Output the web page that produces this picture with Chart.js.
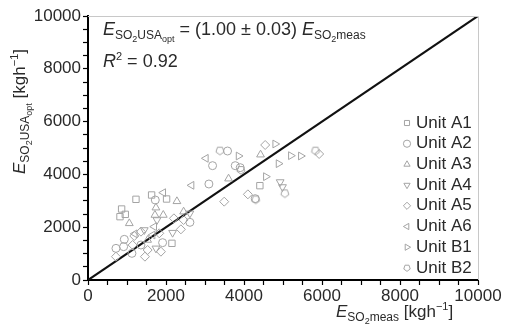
<!DOCTYPE html>
<html>
<head>
<meta charset="utf-8">
<script src="https://cdn.jsdelivr.net/npm/chart.js@4.4.1/dist/chart.umd.min.js"></script>
<style>
  html, body { margin: 0; padding: 0; background: #fff; }
  #wrap { width: 511px; height: 331px; }
</style>
</head>
<body>
<div id="wrap"><canvas id="chart" width="511" height="331"></canvas></div>
<script>
// values: [E_SO2meas, E_SO2USAopt] in kg/h
const unitA1 = [[1230,3056],[1631,3220],[2015,3068],[862,2689],[820,2399],[956,2487],[2152,1389],[4407,3573]];
const unitA2 = [[1725,3030],[3194,4331],[3578,4886],[3775,4331],[3100,3636],[931,1540],[717,1199],[914,1263],
                [1913,1414],[1127,1010],[1358,1326],[2613,2184],[4287,3081],[3903,4255]];
const unitA3 = [[1059,2146],[1742,2740],[1716,2462],[1930,2462],[2280,2980],[2451,2588],[4424,4747],[3604,3838],[1529,1515]];
const unitA4 = [[1768,2273],[2169,1793],[1742,1199],[1443,1894],[4927,3712],[4987,3523],[2613,2525]];
const unitA5 = [[2203,2336],[2451,2273],[2382,1919],[1827,1768],[1187,1667],[1358,1831],[1144,1326],[1460,884],
                [1529,1136],[1870,1073],[3493,2967],[4099,3245],[4543,5114],[5927,4773],[717,884]];
const unitA6 = [[1930,3308],[1699,2020],[1657,1705],[2656,3586],[3023,4609],[1200,1750]];
const unitB1 = [[3860,4697],[4799,5152],[4885,4407],[4560,3914],[5201,4710],[5457,4697]];
const unitB2 = [[3382,4899],[5833,4899],[3920,4167],[5047,3283],[4300,3050]];

const unitNames = ['Unit A1','Unit A2','Unit A3','Unit A4','Unit A5','Unit A6','Unit B1','Unit B2'];
const unitData = [unitA1, unitA2, unitA3, unitA4, unitA5, unitA6, unitB1, unitB2];

// 1:1 fit line
const fitX = [0, 10000];
const fitSlope = 1.00;

const axisMin = 0, axisMax = 10000, tickStep = 500, labelStep = 2000;

const FONT = "'Liberation Sans', Arial, Helvetica, sans-serif";
const markerColor = '#a4a4a4';
const textColor = '#2a2a2a';

// pentagon marker for Unit B2 (no built-in style)
function makePentagon(r) {
    const size = Math.ceil(r * 2 + 3);
    const c = document.createElement('canvas');
    c.width = size; c.height = size;
    const g = c.getContext('2d');
    g.strokeStyle = markerColor;
    g.lineWidth = 1;
    g.beginPath();
    for (let i = 0; i < 5; i++) {
        const a = Math.PI / 2 + i * 2 * Math.PI / 5;
        const px = size / 2 + r * Math.cos(a), py = size / 2 + r * Math.sin(a);
        if (i === 0) g.moveTo(px, py); else g.lineTo(px, py);
    }
    g.closePath();
    g.stroke();
    return c;
}
const pentagon = makePentagon(4.2);
const pentagonSmall = makePentagon(3.4);

const styles = [
    { pointStyle: 'rect', rotation: 0, radius: 4.5 },
    { pointStyle: 'circle', rotation: 0, radius: 4 },
    { pointStyle: 'triangle', rotation: 0, radius: 4.5 },
    { pointStyle: 'triangle', rotation: 180, radius: 4.5 },
    { pointStyle: 'rectRot', rotation: 0, radius: 4.5 },
    { pointStyle: 'triangle', rotation: -90, radius: 4.5 },
    { pointStyle: 'triangle', rotation: 90, radius: 4.5 },
    { pointStyle: pentagon, rotation: 0, radius: 4.5 }
];

const datasets = unitData.map((d, i) => ({
    type: 'scatter',
    label: unitNames[i],
    data: d.map(p => ({ x: p[0], y: p[1] })),
    pointStyle: styles[i].pointStyle,
    rotation: styles[i].rotation,
    pointRadius: styles[i].radius,
    borderColor: markerColor,
    backgroundColor: 'rgba(0,0,0,0)',
    borderWidth: 1
}));

datasets.push({
    type: 'line',
    label: 'fit',
    data: fitX.map(x => ({ x: x, y: fitSlope * x })),
    borderColor: '#111',
    borderWidth: 2.2,
    pointRadius: 0,
    fill: false
});

// text drawn in pieces so the subscripts sit lower and smaller
function drawRich(ctx, segs, x, y) {
    let cx = x;
    segs.forEach(s => {
        ctx.font = (s.it ? 'italic ' : '') + s.size + 'px ' + FONT;
        ctx.fillText(s.t, cx, y + (s.dy || 0));
        cx += ctx.measureText(s.t).width;
    });
}

const yTitle = [
    { t: 'E', size: 17, it: true },
    { t: 'SO', size: 12, dy: 4 },
    { t: '2', size: 9, dy: 7 },
    { t: 'USA', size: 12, dy: 4 },
    { t: 'opt', size: 9, dy: 7 },
    { t: ' [kgh', size: 17 },
    { t: '−1', size: 11, dy: -7 },
    { t: ']', size: 17 }
];
const xTitle = [
    { t: 'E', size: 17, it: true },
    { t: 'SO', size: 12, dy: 4 },
    { t: '2', size: 9, dy: 7 },
    { t: 'meas', size: 12, dy: 4 },
    { t: ' [kgh', size: 17 },
    { t: '−1', size: 11, dy: -7 },
    { t: ']', size: 17 }
];
const eqLine = [
    { t: 'E', size: 18, it: true },
    { t: 'SO', size: 12, dy: 4 },
    { t: '2', size: 9, dy: 7 },
    { t: 'USA', size: 12, dy: 4 },
    { t: 'opt', size: 9, dy: 7 },
    { t: ' = (1.00 ± 0.03) ', size: 18 },
    { t: 'E', size: 18, it: true },
    { t: 'SO', size: 12, dy: 4 },
    { t: '2', size: 9, dy: 7 },
    { t: 'meas', size: 12, dy: 4 }
];
const r2Line = [
    { t: 'R', size: 18, it: true },
    { t: '2', size: 11, dy: -7 },
    { t: ' = 0.92', size: 18 }
];

const decorPlugin = {
    id: 'decor',
    afterDraw(chart) {
        const ctx = chart.ctx;
        const a = chart.chartArea;
        ctx.save();

        // light frame on top and right
        ctx.strokeStyle = '#c8c8c8';
        ctx.lineWidth = 1;
        ctx.beginPath();
        ctx.moveTo(a.left, a.top + 0.5);
        ctx.lineTo(a.right + 0.5, a.top + 0.5);
        ctx.lineTo(a.right + 0.5, a.bottom);
        ctx.stroke();

        ctx.fillStyle = textColor;
        ctx.textBaseline = 'alphabetic';
        ctx.textAlign = 'left';

        drawRich(ctx, eqLine, a.left + 15, 35);
        drawRich(ctx, r2Line, a.left + 15, 67);

        // x title, right aligned near the axis end
        drawRich(ctx, xTitle, 336, 317);

        // y title, rotated
        ctx.save();
        ctx.translate(25, 174);
        ctx.rotate(-Math.PI / 2);
        drawRich(ctx, yTitle, 0, 0);
        ctx.restore();

        // legend
        const lx = 407, tx = 416, ly0 = 122, dy = 20.7;
        ctx.font = '17px ' + FONT;
        ctx.textBaseline = 'middle';
        unitNames.forEach((name, i) => {
            const y = ly0 + i * dy;
            ctx.strokeStyle = markerColor;
            ctx.fillStyle = 'rgba(0,0,0,0)';
            ctx.lineWidth = 1;
            Chart.helpers.drawPoint(ctx, {
                pointStyle: i === 7 ? pentagonSmall : styles[i].pointStyle,
                rotation: styles[i].rotation,
                radius: 3.6,
                borderWidth: 1
            }, lx, y + 1);
            ctx.fillStyle = textColor;
            ctx.fillText(name, tx, y + 1);
        });
        ctx.restore();
    }
};

const tickCfg = {
    stepSize: tickStep,
    autoSkip: false,
    maxTicksLimit: 100,
    color: textColor,
    font: { size: 17, family: FONT },
    callback: v => (v % labelStep === 0 ? String(v) : '')
};

new Chart(document.getElementById('chart'), {
    data: { datasets },
    options: {
        responsive: false,
        animation: false,
        layout: { padding: { top: 16, right: 33, left: 0, bottom: 0 } },
        plugins: { legend: { display: false }, tooltip: { enabled: false } },
        scales: {
            x: {
                type: 'linear',
                min: axisMin,
                max: axisMax,
                ticks: Object.assign({}, tickCfg, { padding: 1, maxRotation: 0 }),
                grid: { drawOnChartArea: false, drawTicks: true, tickLength: 5, tickColor: '#000', tickWidth: 1.2 },
                border: { display: true, color: '#000', width: 2 },
                afterFit: s => { s.height = 51; }
            },
            y: {
                type: 'linear',
                min: axisMin,
                max: axisMax,
                ticks: Object.assign({}, tickCfg, { padding: 2 }),
                grid: { drawOnChartArea: false, drawTicks: true, tickLength: 5, tickColor: '#000', tickWidth: 1.2 },
                border: { display: true, color: '#000', width: 2 },
                afterFit: s => { s.width = 88; }
            }
        }
    },
    plugins: [decorPlugin]
});
</script>
</body>
</html>
